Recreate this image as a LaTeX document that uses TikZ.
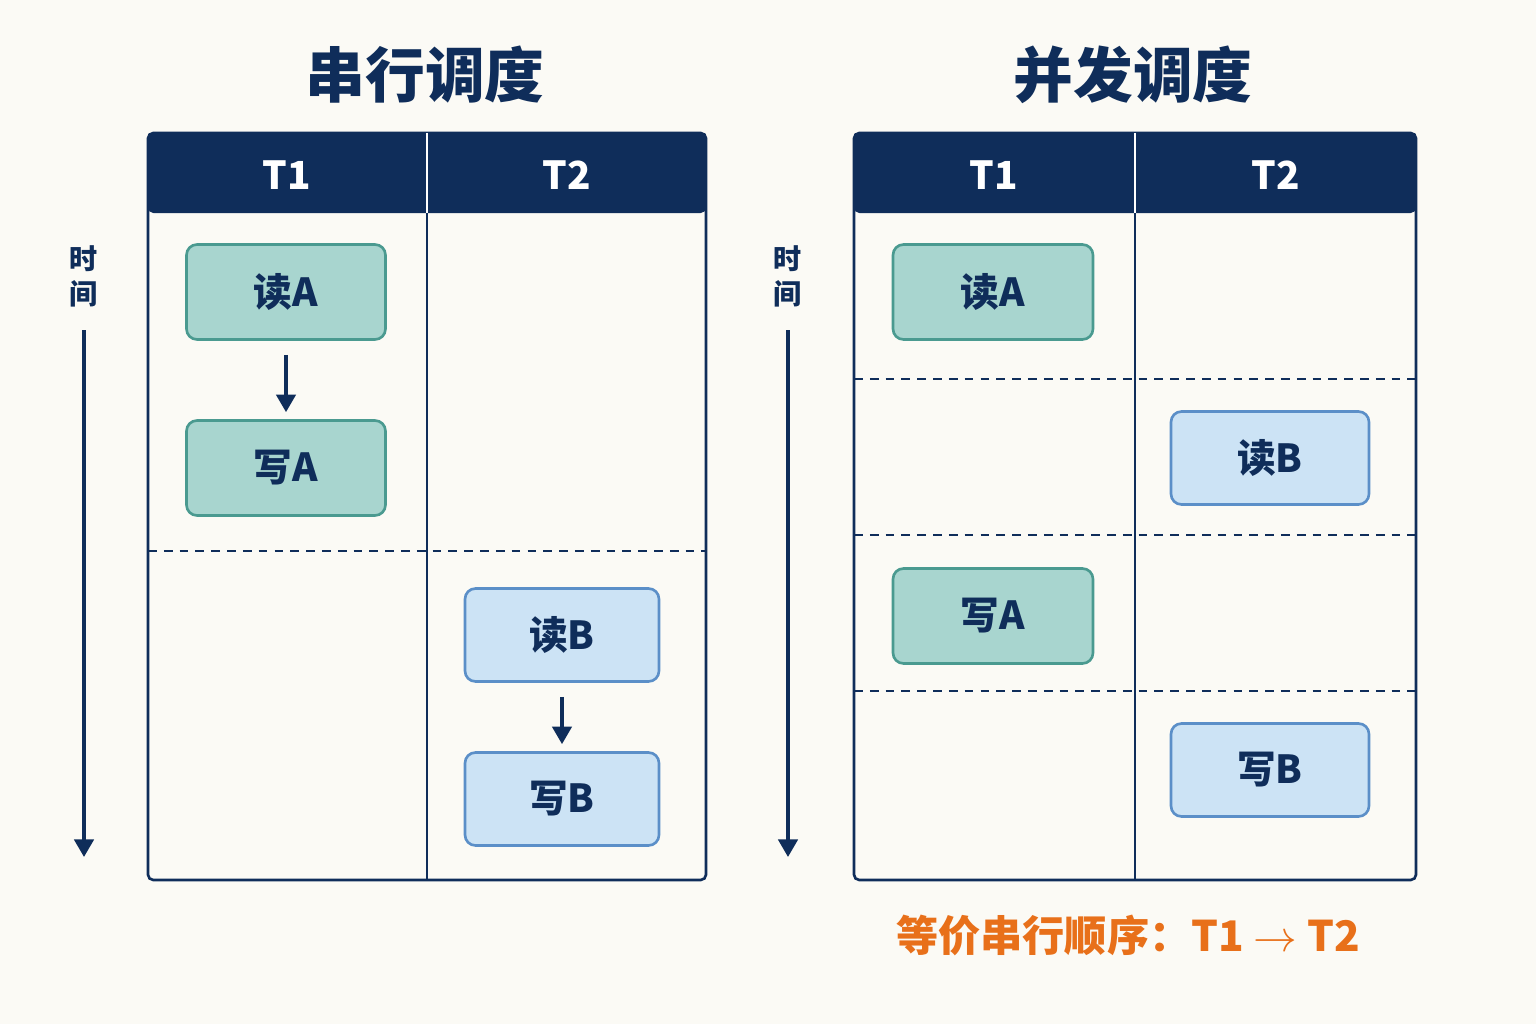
\documentclass[tikz,border=0pt]{standalone}
\usepackage{fontspec}
\setmainfont{Noto Sans CJK SC}
\usetikzlibrary{arrows.meta}
\definecolor{bgc}{HTML}{FBFAF5}
\definecolor{navy}{HTML}{0F2D5A}
\definecolor{gfill}{HTML}{A8D5CF}
\definecolor{gline}{HTML}{4A9A90}
\definecolor{bfill}{HTML}{CCE3F5}
\definecolor{bline}{HTML}{5B8FC8}
\definecolor{orng}{HTML}{E8701A}
\tikzset{
  opA/.style={draw=gline,fill=gfill,line width=1.5pt,rounded corners=6pt,text=navy,font=\fontsize{22}{24}\selectfont\bfseries},
  opB/.style={draw=bline,fill=bfill,line width=1.5pt,rounded corners=6pt,text=navy,font=\fontsize{22}{24}\selectfont\bfseries},
  title/.style={text=navy,font=\fontsize{34}{38}\selectfont\bfseries},
  head/.style={text=white,font=\fontsize{22}{24}\selectfont\bfseries},
  flow/.style={navy,line width=2pt,-{Triangle[length=10pt,width=11pt]}},
  sep/.style={navy,line width=1.2pt,dash pattern=on 5pt off 4pt}
}
\begin{document}
\begin{tikzpicture}[x=0.02cm,y=-0.02cm]
\useasboundingbox[fill=bgc] (0,0) rectangle (1536,1024);

% Serial schedule
\node[title] (tS) at (425,75) {串行调度};
\fill[navy,rounded corners=3pt] (148,133) rectangle (706,213);
\draw[navy,line width=1.5pt,rounded corners=3pt] (148,133) rectangle (706,880);
\draw[white,line width=1.5pt] (427,133) -- (427,213);
\draw[navy,line width=1.5pt] (427,213) -- (427,880);
\draw[sep] (148,551) -- (706,551);
\node[head] (s1) at (287,175) {T1};
\node[head] (s2) at (567,175) {T2};
\node[text=navy,font=\fontsize{16}{20}\selectfont\bfseries,align=center] (sT) at (84,276) {时\\间};
\coordinate (sA) at (84,330);
\coordinate (sB) at (84,857);
\draw[flow] (sA) -- (sB);
\node[opA,minimum width=199*0.02cm,minimum height=95*0.02cm] (sRA) at (286,292) {读A};
\node[opA,minimum width=199*0.02cm,minimum height=95*0.02cm] (sWA) at (286,468) {写A};
\node[opB,minimum width=194*0.02cm,minimum height=93*0.02cm] (sRB) at (562,635) {读B};
\node[opB,minimum width=194*0.02cm,minimum height=93*0.02cm] (sWB) at (562,799) {写B};
\draw[flow] ([yshift=-8pt]sRA.south) -- ([yshift=4pt]sWA.north);
\draw[flow] ([yshift=-8pt]sRB.south) -- ([yshift=4pt]sWB.north);

% Concurrent schedule
\node[title] (tC) at (1133,75) {并发调度};
\fill[navy,rounded corners=3pt] (854,133) rectangle (1416,213);
\draw[navy,line width=1.5pt,rounded corners=3pt] (854,133) rectangle (1416,880);
\draw[white,line width=1.5pt] (1135,133) -- (1135,213);
\draw[navy,line width=1.5pt] (1135,213) -- (1135,880);
\foreach \y in {379,535,691}
  \draw[sep] (854,\y) -- (1416,\y);
\node[head] (c1) at (994,175) {T1};
\node[head] (c2) at (1276,175) {T2};
\node[text=navy,font=\fontsize{16}{20}\selectfont\bfseries,align=center] (cT) at (788,276) {时\\间};
\coordinate (cA) at (788,330);
\coordinate (cB) at (788,857);
\draw[flow] (cA) -- (cB);
\node[opA,minimum width=200*0.02cm,minimum height=95*0.02cm] (cRA) at (993,292) {读A};
\node[opB,minimum width=198*0.02cm,minimum height=93*0.02cm] (cRB) at (1270,458) {读B};
\node[opA,minimum width=200*0.02cm,minimum height=95*0.02cm] (cWA) at (993,616) {写A};
\node[opB,minimum width=198*0.02cm,minimum height=93*0.02cm] (cWB) at (1270,770) {写B};
\node[text=orng,font=\fontsize{24}{28}\selectfont\bfseries] (eq) at (1128,935) {等价串行顺序：T1 $\rightarrow$ T2};
\end{tikzpicture}
\end{document}
